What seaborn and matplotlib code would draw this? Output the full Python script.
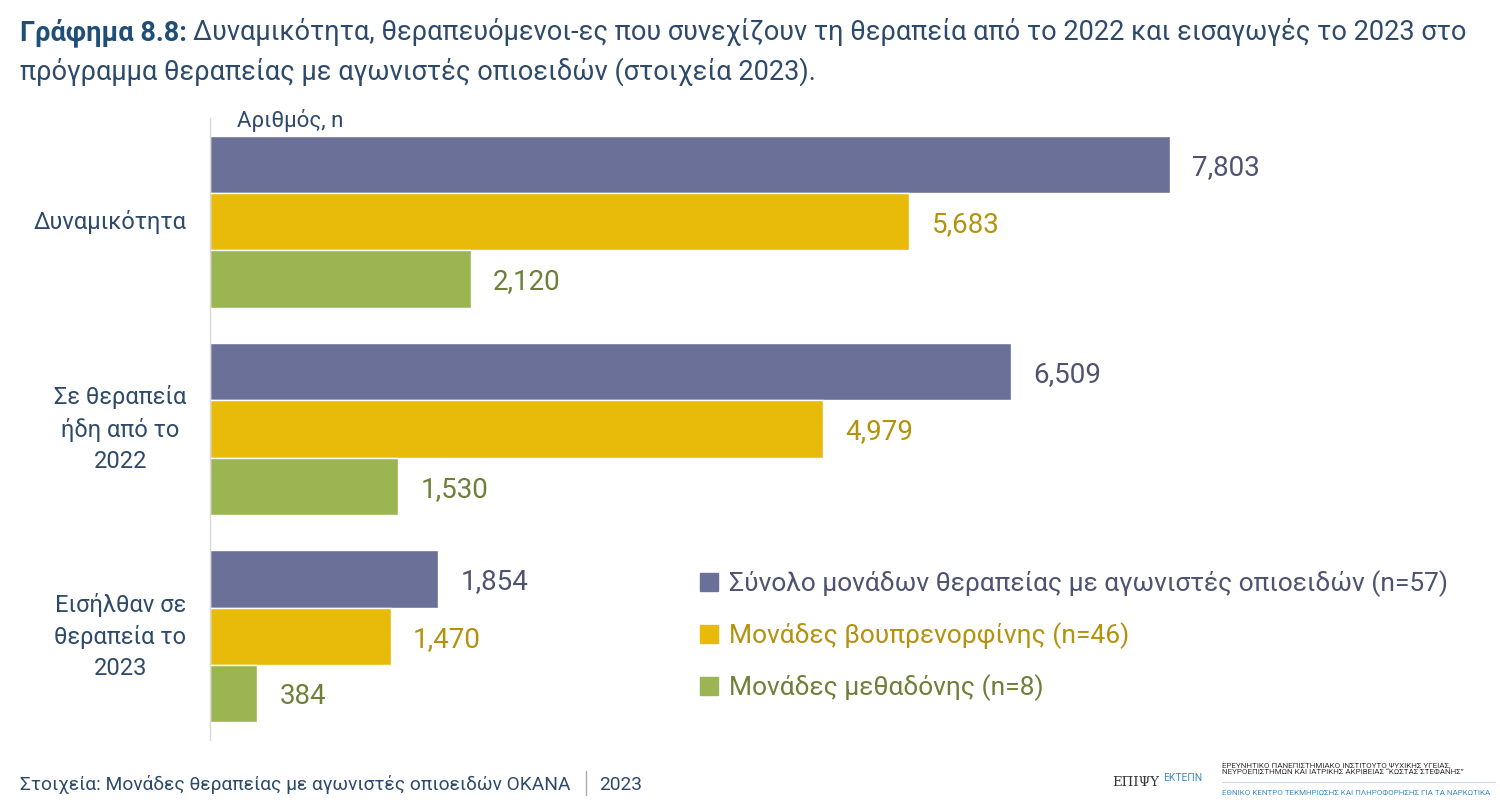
import pandas as pd
import matplotlib
matplotlib.use("Agg")
import matplotlib.pyplot as plt
from matplotlib.lines import Line2D
import seaborn as sns

# data
categories = ["Δυναμικότητα", "Σε θεραπεία\nήδη από το\n2022", "Εισήλθαν σε\nθεραπεία το\n2023"]
series = ["Σύνολο μονάδων θεραπείας με αγωνιστές οπιοειδών (n=57)",
          "Μονάδες βουπρενορφίνης (n=46)",
          "Μονάδες μεθαδόνης (n=8)"]
total_units = [7803, 6509, 1854]
bupre_units = [5683, 4979, 1470]
metha_units = [2120, 1530, 384]

bar_colors = ["#6B7099", "#E8BB0A", "#9BB552"]
text_colors = ["#4D5370", "#B3920E", "#6E8038"]
navy = "#2E4A6B"

df = pd.DataFrame({
    "cat": categories * 3,
    "series": [series[0]] * 3 + [series[1]] * 3 + [series[2]] * 3,
    "n": total_units + bupre_units + metha_units,
})

sns.set_style("white")
plt.rcParams["font.family"] = ["Roboto", "DejaVu Sans"]

fig = plt.figure(figsize=(15, 8.08), dpi=100)
ax = fig.add_axes([210 / 1500, 1 - 740 / 808, 1290 / 1500, 622 / 808])

sns.barplot(data=df, y="cat", x="n", hue="series", hue_order=series,
            order=categories, palette=bar_colors, width=0.83,
            saturation=1, orient="h", legend=False, ax=ax)

ax.set_xlim(0, 10485)
ax.set_ylim(2.5, -0.5)

for cont, col in zip(ax.containers, text_colors):
    labs = ax.bar_label(cont, labels=[f"{v:,.0f}" for v in cont.datavalues],
                        padding=16, fontsize=20, color=col)
    for lb in labs:
        lb.set_va("center_baseline")

# axes styling
for s in ["top", "right", "bottom"]:
    ax.spines[s].set_visible(False)
ax.spines["left"].set_color("#D9D9D9")
ax.spines["left"].set_linewidth(1)
ax.set_xticks([])
ax.set_xlabel("")
ax.set_ylabel("")
ax.tick_params(axis="y", which="major", length=0, pad=17, labelsize=17, labelcolor=navy)
ax.set_yticks([-0.5, 0.5, 1.5, 2.5], minor=True)
ax.tick_params(axis="y", which="minor", length=8, color="#D9D9D9", width=1)
for lab in ax.get_yticklabels():
    lab.set_multialignment("center")
    lab.set_linespacing(1.45)
    lab.set_va("center")

fig.text(237 / 1500, 1 - 120 / 808, "Αριθμός, n",
         fontsize=16, color=navy, va="center", ha="left")

# legend
handles = [Line2D([], [], marker="s", linestyle="none", markersize=13,
                  markerfacecolor=c, markeredgecolor=c) for c in bar_colors]
leg = fig.legend(handles, series, loc="upper left",
                 bbox_to_anchor=(688 / 1500, 1 - 560 / 808), frameon=False,
                 fontsize=19, handlelength=0.8, handletextpad=0.35,
                 labelspacing=0.95, borderaxespad=0)
for t, c in zip(leg.get_texts(), text_colors):
    t.set_color(c)

fig.canvas.draw()
r = fig.canvas.get_renderer()


def width_px(t):
    return t.get_window_extent(renderer=r).width


# title, sized so the first line spans the same width as the reference
title_bold = "Γράφημα 8.8:"
title_rest = "Δυναμικότητα, θεραπευόμενοι-ες που συνεχίζουν τη θεραπεία από το 2022 και εισαγωγές το 2023 στο"
title_line2 = "πρόγραμμα θεραπείας με αγωνιστές οπιοειδών (στοιχεία 2023)."
t1 = fig.text(20 / 1500, 1 - 40 / 808, title_bold, fontsize=20,
              fontweight="bold", color="#1F4E79", va="baseline")
t2 = fig.text(0, 1 - 40 / 808, title_rest, fontsize=20, color=navy, va="baseline")
scale = 1443 / (width_px(t1) + width_px(t2) + 6)
fs = 20 * scale
t1.set_fontsize(fs)
t2.set_fontsize(fs)
bb = t1.get_window_extent(renderer=r)
t2.set_x((bb.x1 + 6) / 1500)
fig.text(20 / 1500, 1 - 80 / 808, title_line2, fontsize=fs, color=navy, va="baseline")

# footer
f1 = fig.text(20 / 1500, 1 - 790 / 808,
              "Στοιχεία: Μονάδες θεραπείας με αγωνιστές οπιοειδών OKANA",
              fontsize=15, color=navy, va="baseline")
f1.set_fontsize(15 * 551 / width_px(f1))
fig.add_artist(Line2D([586 / 1500, 586 / 1500], [1 - 795 / 808, 1 - 771 / 808],
                      color="#AAAAAA", lw=1, transform=fig.transFigure))
fig.text(599 / 1500, 1 - 790 / 808, "2023",
         fontsize=f1.get_fontsize(), color=navy, va="baseline")

# institute credits
fig.text(1112 / 1500, 1 - 786 / 808, "ΕΠΙΨΥ", fontsize=9.5, color="#333333",
         family="DejaVu Serif", va="baseline")
fig.text(1163 / 1500, 1 - 781 / 808, "ΕΚΤΕΠΝ", fontsize=7.5, color="#3A8FC7",
         va="baseline")
fig.text(1222 / 1500, 1 - 762 / 808,
         "ΕΡΕΥΝΗΤΙΚΟ ΠΑΝΕΠΙΣΤΗΜΙΑΚΟ ΙΝΣΤΙΤΟΥΤΟ ΨΥΧΙΚΗΣ ΥΓΕΙΑΣ,\n"
         "ΝΕΥΡΟΕΠΙΣΤΗΜΩΝ ΚΑΙ ΙΑΤΡΙΚΗΣ ΑΚΡΙΒΕΙΑΣ “ΚΩΣΤΑΣ ΣΤΕΦΑΝΗΣ”",
         fontsize=5.8, color="#333333", va="top", linespacing=1.3)
fig.add_artist(Line2D([1222 / 1500, 1495 / 1500], [1 - 782 / 808, 1 - 782 / 808],
                      color="#C8D6E5", lw=0.8, transform=fig.transFigure))
fig.text(1222 / 1500, 1 - 795 / 808,
         "ΕΘΝΙΚΟ ΚΕΝΤΡΟ ΤΕΚΜΗΡΙΩΣΗΣ ΚΑΙ ΠΛΗΡΟΦΟΡΗΣΗΣ ΓΙΑ ΤΑ ΝΑΡΚΩΤΙΚΑ",
         fontsize=5.8, color="#3A8FC7", va="baseline")

fig.savefig("out.png", dpi=100, facecolor="white")
